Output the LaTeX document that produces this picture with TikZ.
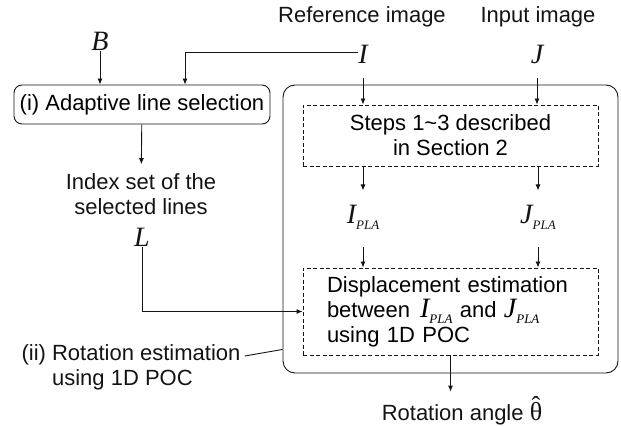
\documentclass[tikz,border=0pt]{standalone}
\usepackage{fontspec}
\setmainfont{Liberation Sans}
\newfontfamily\tms{Liberation Serif}
\usetikzlibrary{arrows.meta, positioning, calc}
\definecolor{colLine}{RGB}{20,20,20}
\tikzset{
    txt/.style={inner sep=0pt, text=colLine, font=\fontsize{22}{25}\selectfont},
    var/.style={inner sep=0pt, text=colLine, font=\fontsize{28}{28}\selectfont\tms\itshape},
    block/.style={rectangle, draw=colLine, rounded corners=8pt, line width=0.9pt,
        minimum width=256pt, minimum height=39pt, inner sep=0pt, align=center,
        font=\fontsize{22}{25}\selectfont},
    outerblock/.style={rectangle, draw=colLine, rounded corners=12pt, line width=0.9pt,
        minimum width=335pt, minimum height=288pt, inner sep=0pt},
    dashblock/.style={rectangle, draw=colLine, dash pattern=on 4pt off 2.5pt, line width=0.9pt,
        minimum width=295pt, inner sep=0pt, font=\fontsize{22}{25}\selectfont},
    arrow/.style={-{Latex[length=6pt, width=5pt]}, line width=0.9pt, draw=colLine}
}
\newcommand{\vr}[1]{{\fontsize{28}{28}\selectfont\tms\itshape #1}}
\newcommand{\pla}{\raisebox{-6pt}{\fontsize{13}{13}\selectfont\tms\itshape PLA}}
\newcommand{\thetahat}{{\fontsize{26}{26}\selectfont\tms
    \ooalign{θ\cr\hidewidth\raisebox{0.22em}{\char"02C6}\hidewidth\cr}}}

\begin{document}
\begin{tikzpicture}[x=1pt, y=-1pt]
    \useasboundingbox (0,0) rectangle (621,427);

    % inputs
    \node[txt, anchor=base] (refimg) at (362,23) {Reference image};
    \node[txt, anchor=base] (inimg) at (538,23) {Input image};
    \node[var, anchor=base] (I) at (363,64) {I};
    \node[var, anchor=base] (J) at (537,64) {J};
    \node[var, anchor=base] (B) at (100,51) {B};

    % (i) line selection
    \node[block] (sel) at (142,104.5) {(i) Adaptive line selection};
    \node[txt, align=center] (idx) at (141,194) {Index set of the\\selected lines};
    \node[var, anchor=base] (L) at (142,247) {L};

    % (ii) rotation estimation
    \node[outerblock] (rot) at (450.5,229) {};
    \node[dashblock, minimum height=61pt, align=center] (steps) at (450.5,135.5)
        {Steps 1\textasciitilde3 described\\in Section 2};
    \node[var, anchor=base] (Ip) at (363,224) {I\pla};
    \node[var, anchor=base] (Jp) at (538,224) {J\pla};
    \node[dashblock, minimum height=87pt, inner xsep=24pt, text width=247pt, align=left] (disp) at (450.5,311.5)
        {Displacement estimation\\between\hspace{0.45em}\vr{I}\pla\ and \vr{J}\pla\\using 1D POC};
    \node[txt, align=left] (rotlbl) at (131,367) {(ii) Rotation estimation\\\phantom{(ii) }using 1D POC};
    \node[txt, anchor=base] (theta) at (462,420) {Rotation angle \thetahat};

    \draw[arrow] (B) -- (B |- sel.north);
    \draw[arrow] ([yshift=2pt]I.west) -| ([xshift=43pt]sel.north);
    \draw[arrow, shorten >=9pt] (sel) -- (idx);
    \draw[arrow, shorten <=14pt] (I) -- (I |- steps.north);
    \draw[arrow, shorten <=14pt] (J) -- (J |- steps.north);
    \draw[arrow, shorten >=15pt] (Ip |- steps.south) -- (Ip);
    \draw[arrow, shorten >=15pt] (Jp |- steps.south) -- (Jp);
    \draw[arrow, shorten <=17pt] (Ip) -- (Ip |- disp.north);
    \draw[arrow, shorten <=17pt] (Jp) -- (Jp |- disp.north);
    \draw[arrow] (L.south) |- (disp.west);
    \draw[arrow, shorten >=10pt] (disp.south) -- (disp.south |- theta.north);
    \draw[line width=0.9pt, colLine] ([xshift=4pt, yshift=-12pt]rotlbl.north east) -- ([yshift=24pt]rot.south west);
\end{tikzpicture}
\end{document}
